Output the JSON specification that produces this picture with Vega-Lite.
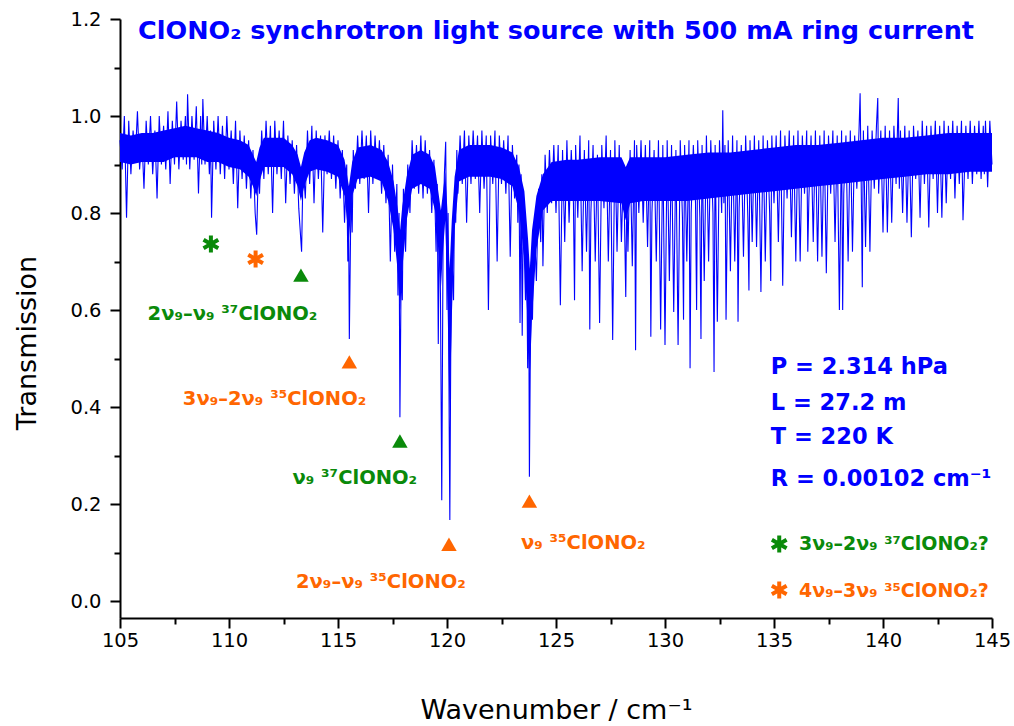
{
"$schema": "https://vega.github.io/schema/vega-lite/v6.json",
"width": 872, "height": 599,
"autosize": "none",
"padding": {"left": 120, "top": 19, "right": 22, "bottom": 108},
"config": {"view": {"stroke": null}, "font": "DejaVu Sans"},
"datasets": {
"band": [
{"wn":105.0,"lo":0.905,"hi":0.965},{"wn":105.5,"lo":0.90,"hi":0.96},{"wn":106.0,"lo":0.905,"hi":0.965},{"wn":106.5,"lo":0.905,"hi":0.965},{"wn":107.0,"lo":0.905,"hi":0.97},{"wn":107.5,"lo":0.915,"hi":0.975},{"wn":108.0,"lo":0.915,"hi":0.98},{"wn":108.5,"lo":0.915,"hi":0.975},{"wn":109.0,"lo":0.905,"hi":0.97},{"wn":109.5,"lo":0.905,"hi":0.965},
{"wn":110.0,"lo":0.895,"hi":0.955},{"wn":110.5,"lo":0.89,"hi":0.95},{"wn":110.9,"lo":0.875,"hi":0.94},{"wn":111.1,"lo":0.855,"hi":0.92},{"wn":111.25,"lo":0.835,"hi":0.905},{"wn":111.4,"lo":0.865,"hi":0.935},{"wn":111.6,"lo":0.895,"hi":0.955},{"wn":112.0,"lo":0.895,"hi":0.955},{"wn":112.5,"lo":0.895,"hi":0.955},{"wn":112.9,"lo":0.88,"hi":0.94},
{"wn":113.15,"lo":0.855,"hi":0.92},{"wn":113.3,"lo":0.825,"hi":0.895},{"wn":113.45,"lo":0.855,"hi":0.925},{"wn":113.7,"lo":0.885,"hi":0.95},{"wn":114.0,"lo":0.89,"hi":0.955},{"wn":114.5,"lo":0.885,"hi":0.95},{"wn":115.0,"lo":0.875,"hi":0.94},{"wn":115.3,"lo":0.835,"hi":0.91},{"wn":115.5,"lo":0.745,"hi":0.855},{"wn":115.65,"lo":0.835,"hi":0.905},
{"wn":115.9,"lo":0.87,"hi":0.935},{"wn":116.5,"lo":0.875,"hi":0.94},{"wn":117.0,"lo":0.865,"hi":0.93},{"wn":117.3,"lo":0.825,"hi":0.905},{"wn":117.55,"lo":0.765,"hi":0.865},{"wn":117.75,"lo":0.675,"hi":0.805},{"wn":117.85,"lo":0.60,"hi":0.765},{"wn":117.95,"lo":0.685,"hi":0.815},{"wn":118.15,"lo":0.785,"hi":0.875},{"wn":118.4,"lo":0.85,"hi":0.92},
{"wn":118.8,"lo":0.86,"hi":0.93},{"wn":119.2,"lo":0.85,"hi":0.92},{"wn":119.45,"lo":0.805,"hi":0.895},{"wn":119.6,"lo":0.725,"hi":0.845},{"wn":119.72,"lo":0.645,"hi":0.805},{"wn":119.82,"lo":0.725,"hi":0.845},{"wn":119.92,"lo":0.785,"hi":0.885},{"wn":120.02,"lo":0.625,"hi":0.805},{"wn":120.12,"lo":0.38,"hi":0.685},{"wn":120.22,"lo":0.585,"hi":0.785},
{"wn":120.35,"lo":0.765,"hi":0.875},{"wn":120.55,"lo":0.865,"hi":0.93},{"wn":121.0,"lo":0.875,"hi":0.94},{"wn":121.5,"lo":0.875,"hi":0.94},{"wn":122.0,"lo":0.875,"hi":0.94},{"wn":122.5,"lo":0.87,"hi":0.935},{"wn":123.0,"lo":0.855,"hi":0.925},{"wn":123.3,"lo":0.805,"hi":0.895},{"wn":123.55,"lo":0.705,"hi":0.845},{"wn":123.72,"lo":0.555,"hi":0.745},
{"wn":123.8,"lo":0.465,"hi":0.685},{"wn":123.9,"lo":0.585,"hi":0.765},{"wn":124.1,"lo":0.725,"hi":0.835},{"wn":124.4,"lo":0.805,"hi":0.88},{"wn":124.8,"lo":0.825,"hi":0.905},{"wn":125.5,"lo":0.825,"hi":0.91},{"wn":126.0,"lo":0.825,"hi":0.91},{"wn":127.0,"lo":0.825,"hi":0.915},{"wn":128.0,"lo":0.82,"hi":0.915},{"wn":128.2,"lo":0.785,"hi":0.895},
{"wn":128.4,"lo":0.82,"hi":0.915},{"wn":129.0,"lo":0.825,"hi":0.915},{"wn":130.0,"lo":0.825,"hi":0.915},{"wn":131.0,"lo":0.825,"hi":0.92},{"wn":132.0,"lo":0.83,"hi":0.925},{"wn":133.0,"lo":0.835,"hi":0.925},{"wn":134.0,"lo":0.84,"hi":0.93},{"wn":135.0,"lo":0.845,"hi":0.935},{"wn":136.0,"lo":0.85,"hi":0.94},{"wn":137.0,"lo":0.855,"hi":0.94},
{"wn":138.0,"lo":0.86,"hi":0.945},{"wn":139.0,"lo":0.865,"hi":0.95},{"wn":140.0,"lo":0.87,"hi":0.955},{"wn":141.0,"lo":0.875,"hi":0.955},{"wn":142.0,"lo":0.88,"hi":0.96},{"wn":143.0,"lo":0.88,"hi":0.965},{"wn":144.0,"lo":0.885,"hi":0.965},{"wn":145.0,"lo":0.885,"hi":0.965}
],
"spectrum": [
{"wn":105.0,"tr":0.95},{"wn":105.1,"tr":0.89},{"wn":105.2,"tr":1.00},{"wn":105.3,"tr":0.79},{"wn":105.4,"tr":0.99},{"wn":105.5,"tr":0.88},{"wn":105.6,"tr":0.97},{"wn":105.7,"tr":0.91},{"wn":105.8,"tr":1.01},{"wn":105.9,"tr":0.89},
{"wn":106.0,"tr":0.96},{"wn":106.1,"tr":0.85},{"wn":106.2,"tr":0.99},{"wn":106.3,"tr":0.90},{"wn":106.4,"tr":1.00},{"wn":106.5,"tr":0.88},{"wn":106.6,"tr":0.97},{"wn":106.7,"tr":0.83},{"wn":106.8,"tr":1.00},{"wn":106.9,"tr":0.90},
{"wn":107.0,"tr":0.98},{"wn":107.1,"tr":0.89},{"wn":107.2,"tr":1.01},{"wn":107.3,"tr":0.86},{"wn":107.4,"tr":0.99},{"wn":107.5,"tr":0.90},{"wn":107.6,"tr":1.03},{"wn":107.7,"tr":0.89},{"wn":107.8,"tr":0.99},{"wn":107.9,"tr":0.91},
{"wn":108.0,"tr":1.00},{"wn":108.05,"tr":0.90},{"wn":108.1,"tr":1.045},{"wn":108.2,"tr":0.89},{"wn":108.3,"tr":1.00},{"wn":108.4,"tr":0.91},{"wn":108.5,"tr":1.02},{"wn":108.6,"tr":0.84},{"wn":108.7,"tr":1.00},{"wn":108.75,"tr":0.90},{"wn":108.8,"tr":1.035},{"wn":108.9,"tr":0.90},
{"wn":109.0,"tr":1.00},{"wn":109.1,"tr":0.88},{"wn":109.15,"tr":0.97},{"wn":109.2,"tr":0.79},{"wn":109.3,"tr":0.99},{"wn":109.4,"tr":0.89},{"wn":109.5,"tr":1.00},{"wn":109.6,"tr":0.88},{"wn":109.7,"tr":0.98},{"wn":109.8,"tr":0.87},{"wn":109.9,"tr":1.00},
{"wn":110.0,"tr":0.89},{"wn":110.1,"tr":0.97},{"wn":110.2,"tr":0.86},{"wn":110.3,"tr":0.99},{"wn":110.4,"tr":0.81},{"wn":110.5,"tr":0.97},{"wn":110.6,"tr":0.87},{"wn":110.7,"tr":0.96},{"wn":110.8,"tr":0.85},{"wn":110.9,"tr":0.95},
{"wn":111.0,"tr":0.83},{"wn":111.1,"tr":0.93},{"wn":111.2,"tr":0.80},{"wn":111.27,"tr":0.755},{"wn":111.35,"tr":0.90},{"wn":111.4,"tr":0.84},{"wn":111.5,"tr":0.97},{"wn":111.6,"tr":0.87},{"wn":111.7,"tr":0.99},{"wn":111.8,"tr":0.88},{"wn":111.9,"tr":0.98},
{"wn":112.0,"tr":0.80},{"wn":112.1,"tr":0.99},{"wn":112.2,"tr":0.88},{"wn":112.3,"tr":0.97},{"wn":112.4,"tr":0.87},{"wn":112.5,"tr":0.99},{"wn":112.6,"tr":0.82},{"wn":112.7,"tr":0.96},{"wn":112.8,"tr":0.86},{"wn":112.9,"tr":0.95},
{"wn":113.0,"tr":0.84},{"wn":113.1,"tr":0.94},{"wn":113.2,"tr":0.81},{"wn":113.33,"tr":0.72},{"wn":113.4,"tr":0.90},{"wn":113.5,"tr":0.83},{"wn":113.6,"tr":0.97},{"wn":113.7,"tr":0.86},{"wn":113.8,"tr":0.98},{"wn":113.9,"tr":0.82},
{"wn":114.0,"tr":0.97},{"wn":114.1,"tr":0.87},{"wn":114.2,"tr":0.96},{"wn":114.3,"tr":0.76},{"wn":114.4,"tr":0.96},{"wn":114.5,"tr":0.88},{"wn":114.6,"tr":0.97},{"wn":114.7,"tr":0.87},{"wn":114.8,"tr":0.96},{"wn":114.9,"tr":0.85},
{"wn":115.0,"tr":0.95},{"wn":115.1,"tr":0.83},{"wn":115.2,"tr":0.93},{"wn":115.3,"tr":0.78},{"wn":115.4,"tr":0.90},{"wn":115.45,"tr":0.70},{"wn":115.48,"tr":0.84},{"wn":115.52,"tr":0.54},{"wn":115.6,"tr":0.85},{"wn":115.65,"tr":0.76},{"wn":115.7,"tr":0.93},{"wn":115.8,"tr":0.85},{"wn":115.9,"tr":0.96},
{"wn":116.0,"tr":0.86},{"wn":116.1,"tr":0.97},{"wn":116.2,"tr":0.87},{"wn":116.3,"tr":0.96},{"wn":116.4,"tr":0.80},{"wn":116.5,"tr":0.97},{"wn":116.6,"tr":0.86},{"wn":116.7,"tr":0.96},{"wn":116.8,"tr":0.87},{"wn":116.9,"tr":0.95},
{"wn":117.0,"tr":0.84},{"wn":117.1,"tr":0.94},{"wn":117.2,"tr":0.82},{"wn":117.3,"tr":0.92},{"wn":117.4,"tr":0.70},{"wn":117.5,"tr":0.90},{"wn":117.6,"tr":0.72},{"wn":117.7,"tr":0.86},{"wn":117.75,"tr":0.63},{"wn":117.8,"tr":0.80},{"wn":117.84,"tr":0.379},{"wn":117.9,"tr":0.70},{"wn":117.95,"tr":0.62},
{"wn":118.0,"tr":0.85},{"wn":118.1,"tr":0.72},{"wn":118.2,"tr":0.90},{"wn":118.3,"tr":0.80},{"wn":118.4,"tr":0.95},{"wn":118.5,"tr":0.85},{"wn":118.6,"tr":0.94},{"wn":118.7,"tr":0.84},{"wn":118.8,"tr":0.96},{"wn":118.9,"tr":0.83},
{"wn":119.0,"tr":0.95},{"wn":119.1,"tr":0.84},{"wn":119.2,"tr":0.93},{"wn":119.3,"tr":0.80},{"wn":119.4,"tr":0.91},{"wn":119.5,"tr":0.72},{"wn":119.55,"tr":0.86},{"wn":119.6,"tr":0.53},{"wn":119.65,"tr":0.80},{"wn":119.7,"tr":0.63},{"wn":119.76,"tr":0.208},{"wn":119.82,"tr":0.75},{"wn":119.88,"tr":0.88},{"wn":119.94,"tr":0.947},
{"wn":120.0,"tr":0.60},{"wn":120.05,"tr":0.80},{"wn":120.1,"tr":0.367},{"wn":120.13,"tr":0.167},{"wn":120.17,"tr":0.50},{"wn":120.22,"tr":0.72},{"wn":120.3,"tr":0.62},{"wn":120.35,"tr":0.85},{"wn":120.4,"tr":0.78},{"wn":120.45,"tr":0.93},{"wn":120.5,"tr":0.84},{"wn":120.6,"tr":0.96},{"wn":120.7,"tr":0.86},{"wn":120.8,"tr":0.97},{"wn":120.9,"tr":0.78},
{"wn":121.0,"tr":0.96},{"wn":121.1,"tr":0.86},{"wn":121.2,"tr":0.97},{"wn":121.3,"tr":0.87},{"wn":121.4,"tr":0.96},{"wn":121.5,"tr":0.80},{"wn":121.6,"tr":0.97},{"wn":121.7,"tr":0.85},{"wn":121.8,"tr":0.96},{"wn":121.9,"tr":0.60},
{"wn":122.0,"tr":0.96},{"wn":122.1,"tr":0.86},{"wn":122.2,"tr":0.97},{"wn":122.3,"tr":0.70},{"wn":122.4,"tr":0.96},{"wn":122.5,"tr":0.86},{"wn":122.6,"tr":0.95},{"wn":122.7,"tr":0.84},{"wn":122.8,"tr":0.96},{"wn":122.9,"tr":0.71},
{"wn":123.0,"tr":0.94},{"wn":123.1,"tr":0.83},{"wn":123.2,"tr":0.92},{"wn":123.25,"tr":0.78},{"wn":123.3,"tr":0.90},{"wn":123.35,"tr":0.573},{"wn":123.4,"tr":0.88},{"wn":123.45,"tr":0.547},{"wn":123.5,"tr":0.80},{"wn":123.6,"tr":0.62},{"wn":123.65,"tr":0.75},{"wn":123.7,"tr":0.48},{"wn":123.75,"tr":0.65},{"wn":123.78,"tr":0.256},{"wn":123.82,"tr":0.50},{"wn":123.87,"tr":0.70},{"wn":123.92,"tr":0.58},
{"wn":124.0,"tr":0.78},{"wn":124.1,"tr":0.66},{"wn":124.2,"tr":0.85},{"wn":124.3,"tr":0.74},{"wn":124.35,"tr":0.88},{"wn":124.4,"tr":0.69},{"wn":124.5,"tr":0.92},{"wn":124.6,"tr":0.80},{"wn":124.7,"tr":0.93},{"wn":124.8,"tr":0.82},{"wn":124.9,"tr":0.94},
{"wn":125.0,"tr":0.80},{"wn":125.1,"tr":0.94},{"wn":125.2,"tr":0.61},{"wn":125.3,"tr":0.93},{"wn":125.4,"tr":0.74},{"wn":125.5,"tr":0.95},{"wn":125.6,"tr":0.78},{"wn":125.7,"tr":0.93},{"wn":125.8,"tr":0.82},{"wn":125.85,"tr":0.62},{"wn":125.9,"tr":0.94},
{"wn":126.0,"tr":0.79},{"wn":126.1,"tr":0.96},{"wn":126.2,"tr":0.68},{"wn":126.3,"tr":0.93},{"wn":126.4,"tr":0.72},{"wn":126.5,"tr":0.95},{"wn":126.55,"tr":0.56},{"wn":126.6,"tr":0.80},{"wn":126.7,"tr":0.94},{"wn":126.8,"tr":0.70},{"wn":126.9,"tr":0.92},
{"wn":127.0,"tr":0.573},{"wn":127.1,"tr":0.94},{"wn":127.2,"tr":0.81},{"wn":127.3,"tr":0.96},{"wn":127.4,"tr":0.70},{"wn":127.5,"tr":0.93},{"wn":127.6,"tr":0.538},{"wn":127.7,"tr":0.95},{"wn":127.8,"tr":0.72},{"wn":127.9,"tr":0.94},
{"wn":128.0,"tr":0.74},{"wn":128.1,"tr":0.90},{"wn":128.2,"tr":0.627},{"wn":128.25,"tr":0.85},{"wn":128.3,"tr":0.72},{"wn":128.4,"tr":0.93},{"wn":128.5,"tr":0.69},{"wn":128.6,"tr":0.95},{"wn":128.65,"tr":0.517},{"wn":128.7,"tr":0.94},{"wn":128.8,"tr":0.80},{"wn":128.9,"tr":0.95},
{"wn":129.0,"tr":0.78},{"wn":129.1,"tr":0.94},{"wn":129.2,"tr":0.73},{"wn":129.3,"tr":0.95},{"wn":129.35,"tr":0.545},{"wn":129.4,"tr":0.80},{"wn":129.5,"tr":0.93},{"wn":129.6,"tr":0.70},{"wn":129.7,"tr":0.95},{"wn":129.8,"tr":0.56},{"wn":129.9,"tr":0.94},
{"wn":130.0,"tr":0.528},{"wn":130.1,"tr":0.95},{"wn":130.2,"tr":0.66},{"wn":130.3,"tr":0.94},{"wn":130.4,"tr":0.596},{"wn":130.5,"tr":0.93},{"wn":130.6,"tr":0.528},{"wn":130.7,"tr":0.95},{"wn":130.8,"tr":0.79},{"wn":130.85,"tr":0.58},{"wn":130.9,"tr":0.94},
{"wn":131.0,"tr":0.70},{"wn":131.1,"tr":0.95},{"wn":131.15,"tr":0.48},{"wn":131.2,"tr":0.80},{"wn":131.3,"tr":0.94},{"wn":131.4,"tr":0.82},{"wn":131.45,"tr":0.60},{"wn":131.5,"tr":0.95},{"wn":131.6,"tr":0.79},{"wn":131.65,"tr":0.54},{"wn":131.7,"tr":0.94},{"wn":131.8,"tr":0.66},{"wn":131.9,"tr":0.96},
{"wn":132.0,"tr":0.70},{"wn":132.1,"tr":0.95},{"wn":132.2,"tr":0.80},{"wn":132.25,"tr":0.472},{"wn":132.3,"tr":0.94},{"wn":132.4,"tr":0.576},{"wn":132.5,"tr":0.95},{"wn":132.6,"tr":0.80},{"wn":132.65,"tr":1.012},{"wn":132.7,"tr":0.82},{"wn":132.75,"tr":0.94},{"wn":132.8,"tr":0.58},{"wn":132.9,"tr":0.95},
{"wn":133.0,"tr":0.68},{"wn":133.1,"tr":0.96},{"wn":133.2,"tr":0.70},{"wn":133.3,"tr":0.95},{"wn":133.35,"tr":0.576},{"wn":133.4,"tr":0.81},{"wn":133.5,"tr":0.94},{"wn":133.6,"tr":0.71},{"wn":133.7,"tr":0.96},{"wn":133.8,"tr":0.79},{"wn":133.85,"tr":0.64},{"wn":133.9,"tr":0.95},
{"wn":134.0,"tr":0.74},{"wn":134.1,"tr":0.96},{"wn":134.2,"tr":0.73},{"wn":134.3,"tr":0.95},{"wn":134.4,"tr":0.637},{"wn":134.5,"tr":0.96},{"wn":134.6,"tr":0.70},{"wn":134.7,"tr":0.95},{"wn":134.8,"tr":0.80},{"wn":134.85,"tr":0.66},{"wn":134.9,"tr":0.96},
{"wn":135.0,"tr":0.82},{"wn":135.1,"tr":0.96},{"wn":135.2,"tr":0.74},{"wn":135.3,"tr":0.97},{"wn":135.4,"tr":0.65},{"wn":135.5,"tr":0.96},{"wn":135.6,"tr":0.83},{"wn":135.7,"tr":0.97},{"wn":135.8,"tr":0.75},{"wn":135.9,"tr":0.96},
{"wn":136.0,"tr":0.70},{"wn":136.1,"tr":0.97},{"wn":136.2,"tr":0.70},{"wn":136.3,"tr":0.96},{"wn":136.4,"tr":0.84},{"wn":136.5,"tr":0.97},{"wn":136.55,"tr":0.72},{"wn":136.6,"tr":0.83},{"wn":136.7,"tr":0.96},{"wn":136.8,"tr":0.74},{"wn":136.9,"tr":0.97},
{"wn":137.0,"tr":0.70},{"wn":137.1,"tr":0.96},{"wn":137.2,"tr":0.71},{"wn":137.3,"tr":0.97},{"wn":137.4,"tr":0.676},{"wn":137.5,"tr":0.96},{"wn":137.6,"tr":0.84},{"wn":137.7,"tr":0.97},{"wn":137.8,"tr":0.74},{"wn":137.9,"tr":0.96},
{"wn":138.0,"tr":0.60},{"wn":138.1,"tr":0.97},{"wn":138.15,"tr":0.60},{"wn":138.2,"tr":0.84},{"wn":138.3,"tr":0.96},{"wn":138.4,"tr":0.70},{"wn":138.5,"tr":0.97},{"wn":138.6,"tr":0.72},{"wn":138.7,"tr":0.96},{"wn":138.8,"tr":0.85},{"wn":138.9,"tr":0.97},{"wn":138.95,"tr":1.047},
{"wn":139.0,"tr":0.86},{"wn":139.05,"tr":0.647},{"wn":139.1,"tr":0.97},{"wn":139.2,"tr":0.73},{"wn":139.3,"tr":0.98},{"wn":139.4,"tr":0.72},{"wn":139.5,"tr":0.97},{"wn":139.6,"tr":0.85},{"wn":139.7,"tr":0.98},{"wn":139.76,"tr":1.037},{"wn":139.8,"tr":0.84},{"wn":139.9,"tr":0.97},
{"wn":140.0,"tr":0.76},{"wn":140.1,"tr":0.98},{"wn":140.2,"tr":0.76},{"wn":140.3,"tr":0.97},{"wn":140.4,"tr":0.78},{"wn":140.5,"tr":0.98},{"wn":140.6,"tr":0.86},{"wn":140.7,"tr":1.037},{"wn":140.75,"tr":0.85},{"wn":140.8,"tr":0.97},{"wn":140.9,"tr":0.80},
{"wn":141.0,"tr":0.98},{"wn":141.1,"tr":0.78},{"wn":141.2,"tr":0.97},{"wn":141.3,"tr":0.75},{"wn":141.4,"tr":0.98},{"wn":141.5,"tr":0.87},{"wn":141.6,"tr":0.97},{"wn":141.7,"tr":0.79},{"wn":141.8,"tr":0.99},{"wn":141.9,"tr":0.86},
{"wn":142.0,"tr":0.98},{"wn":142.1,"tr":0.77},{"wn":142.2,"tr":0.98},{"wn":142.3,"tr":0.87},{"wn":142.4,"tr":0.99},{"wn":142.5,"tr":0.80},{"wn":142.6,"tr":0.98},{"wn":142.7,"tr":0.79},{"wn":142.8,"tr":0.99},{"wn":142.9,"tr":0.82},
{"wn":143.0,"tr":0.98},{"wn":143.1,"tr":0.87},{"wn":143.2,"tr":0.99},{"wn":143.3,"tr":0.83},{"wn":143.4,"tr":0.98},{"wn":143.5,"tr":0.86},{"wn":143.6,"tr":0.99},{"wn":143.67,"tr":0.785},{"wn":143.8,"tr":0.98},{"wn":143.9,"tr":0.87},
{"wn":144.0,"tr":0.99},{"wn":144.1,"tr":0.86},{"wn":144.2,"tr":0.98},{"wn":144.3,"tr":0.88},{"wn":144.4,"tr":0.99},{"wn":144.5,"tr":0.87},{"wn":144.6,"tr":0.98},{"wn":144.65,"tr":0.88},{"wn":144.7,"tr":0.99},{"wn":144.8,"tr":0.853},{"wn":144.9,"tr":0.99},{"wn":145.0,"tr":0.90}
],
"triangles": [
{"wn":113.3,"tr":0.672,"iso":"37"},{"wn":115.52,"tr":0.493,"iso":"35"},{"wn":117.84,"tr":0.330,"iso":"37"},{"wn":120.09,"tr":0.117,"iso":"35"},{"wn":123.78,"tr":0.206,"iso":"35"}
],
"asterisks": [
{"wn":109.17,"tr":0.736,"iso":"37"},{"wn":111.22,"tr":0.705,"iso":"35"},{"wn":135.24,"tr":0.1175,"iso":"37"},{"wn":135.24,"tr":0.0227,"iso":"35"}
],
"bands": [
{"wn":110.16,"tr":0.579,"iso":"37","label":"2ν₉–ν₉ ³⁷ClONO₂"},
{"wn":112.09,"tr":0.404,"iso":"35","label":"3ν₉–2ν₉ ³⁵ClONO₂"},
{"wn":115.77,"tr":0.241,"iso":"37","label":"ν₉ ³⁷ClONO₂"},
{"wn":116.97,"tr":0.027,"iso":"35","label":"2ν₉–ν₉ ³⁵ClONO₂"},
{"wn":126.25,"tr":0.107,"iso":"35","label":"ν₉ ³⁵ClONO₂"}
],
"legend": [
{"wn":136.15,"tr":0.105,"iso":"37","label":"3ν₉–2ν₉ ³⁷ClONO₂?"},
{"wn":136.15,"tr":0.009,"iso":"35","label":"4ν₉–3ν₉ ³⁵ClONO₂?"}
],
"info": [
{"wn":134.85,"tr":0.4674,"iso":"info","label":"P = 2.314 hPa"},
{"wn":134.85,"tr":0.394,"iso":"info","label":"L = 27.2 m"},
{"wn":134.85,"tr":0.323,"iso":"info","label":"T = 220 K"},
{"wn":134.85,"tr":0.238,"iso":"info","label":"R = 0.00102 cm⁻¹"}
],
"heading": [
{"wn":125.0,"tr":1.158,"iso":"info","label":"ClONO₂ synchrotron light source with 500 mA ring current"}
]
},
"layer": [
{
"data": {"name": "band"},
"mark": {"type": "area", "color": "#0000FF", "opacity": 1},
"encoding": {
"x": {"field": "wn", "type": "quantitative", "scale": {"domain": [105, 145], "nice": false, "zero": false}, "axis": null},
"y": {"field": "lo", "type": "quantitative", "scale": {"domain": [-0.035, 1.2], "nice": false, "zero": false}, "axis": null},
"y2": {"field": "hi"}
}
},
{
"data": {"name": "spectrum"},
"mark": {"type": "line", "color": "#0000FF", "strokeWidth": 1.1},
"encoding": {
"x": {"field": "wn", "type": "quantitative", "scale": {"domain": [105, 145], "nice": false, "zero": false},
"axis": {"values": [105,110,115,120,125,130,135,140,145], "format": "d", "grid": false, "domainColor": "#000", "domainWidth": 2, "tickColor": "#000", "tickWidth": 2, "tickSize": 10, "labelFont": "DejaVu Sans", "labelFontSize": 19.5, "labelColor": "#000", "labelPadding": 3, "labelFlush": false, "labelOverlap": false, "labelBound": false,
"title": "Wavenumber / cm⁻¹", "titleFont": "DejaVu Sans", "titleFontSize": 27, "titleFontWeight": "normal", "titleColor": "#000", "titleY": 100, "titleBaseline": "alphabetic"}},
"y": {"field": "tr", "type": "quantitative", "scale": {"domain": [-0.035, 1.2], "nice": false, "zero": false},
"axis": {"values": [0,0.2,0.4,0.6,0.8,1.0,1.2], "format": ".1f", "grid": false, "domainColor": "#000", "domainWidth": 2, "tickColor": "#000", "tickWidth": 2, "tickSize": 10, "labelFont": "DejaVu Sans", "labelFontSize": 19.5, "labelColor": "#000", "labelPadding": 9, "labelFlush": false, "labelOverlap": false, "labelBound": false,
"title": "Transmission", "titleFont": "DejaVu Sans", "titleFontSize": 27, "titleFontWeight": "normal", "titleColor": "#000", "titleX": -85, "titleY": 323.5, "titleAngle": 270, "titleBaseline": "alphabetic", "titleAlign": "center"}}
}
},
{
"data": {"name": "triangles"},
"mark": {"type": "point", "shape": "triangle-up", "filled": true, "size": 240, "opacity": 1},
"encoding": {
"x": {"field": "wn", "type": "quantitative", "scale": {"domain": [105, 145], "nice": false, "zero": false},
"axis": {"orient": "bottom", "values": [107.5,112.5,117.5,122.5,127.5,132.5,137.5,142.5], "labels": false, "domain": false, "grid": false, "tickColor": "#000", "tickWidth": 2, "tickSize": 6, "title": null}},
"y": {"field": "tr", "type": "quantitative", "scale": {"domain": [-0.035, 1.2], "nice": false, "zero": false},
"axis": {"orient": "left", "values": [0.1,0.3,0.5,0.7,0.9,1.1], "labels": false, "domain": false, "grid": false, "tickColor": "#000", "tickWidth": 2, "tickSize": 6, "title": null}},
"color": {"field": "iso", "type": "nominal", "scale": {"domain": ["35","37","info"], "range": ["#FF6600","#0A8A0A","#0000FF"]}, "legend": null}
}
},
{
"data": {"name": "asterisks"},
"mark": {"type": "point", "shape": "M0,-1L0,1M-0.866,-0.5L0.866,0.5M-0.866,0.5L0.866,-0.5", "filled": false, "size": 289, "strokeWidth": 4, "strokeCap": "butt", "opacity": 1},
"encoding": {
"x": {"field": "wn", "type": "quantitative", "scale": {"domain": [105, 145], "nice": false, "zero": false}, "axis": null},
"y": {"field": "tr", "type": "quantitative", "scale": {"domain": [-0.035, 1.2], "nice": false, "zero": false}, "axis": null},
"color": {"field": "iso", "type": "nominal", "scale": {"domain": ["35","37","info"], "range": ["#FF6600","#0A8A0A","#0000FF"]}, "legend": null}
}
},
{
"data": {"name": "bands"},
"mark": {"type": "text", "font": "DejaVu Sans", "fontSize": 19.5, "fontWeight": "bold", "align": "center", "baseline": "alphabetic"},
"encoding": {
"x": {"field": "wn", "type": "quantitative", "scale": {"domain": [105, 145], "nice": false, "zero": false}, "axis": null},
"y": {"field": "tr", "type": "quantitative", "scale": {"domain": [-0.035, 1.2], "nice": false, "zero": false}, "axis": null},
"text": {"field": "label"},
"color": {"field": "iso", "type": "nominal", "scale": {"domain": ["35","37","info"], "range": ["#FF6600","#0A8A0A","#0000FF"]}, "legend": null}
}
},
{
"data": {"name": "legend"},
"mark": {"type": "text", "font": "DejaVu Sans", "fontSize": 19, "fontWeight": "bold", "align": "left", "baseline": "alphabetic"},
"encoding": {
"x": {"field": "wn", "type": "quantitative", "scale": {"domain": [105, 145], "nice": false, "zero": false}, "axis": null},
"y": {"field": "tr", "type": "quantitative", "scale": {"domain": [-0.035, 1.2], "nice": false, "zero": false}, "axis": null},
"text": {"field": "label"},
"color": {"field": "iso", "type": "nominal", "scale": {"domain": ["35","37","info"], "range": ["#FF6600","#0A8A0A","#0000FF"]}, "legend": null}
}
},
{
"data": {"name": "info"},
"mark": {"type": "text", "font": "DejaVu Sans", "fontSize": 22.5, "fontWeight": "bold", "align": "left", "baseline": "alphabetic"},
"encoding": {
"x": {"field": "wn", "type": "quantitative", "scale": {"domain": [105, 145], "nice": false, "zero": false}, "axis": null},
"y": {"field": "tr", "type": "quantitative", "scale": {"domain": [-0.035, 1.2], "nice": false, "zero": false}, "axis": null},
"text": {"field": "label"},
"color": {"field": "iso", "type": "nominal", "scale": {"domain": ["35","37","info"], "range": ["#FF6600","#0A8A0A","#0000FF"]}, "legend": null}
}
},
{
"data": {"name": "heading"},
"mark": {"type": "text", "font": "DejaVu Sans", "fontSize": 25.5, "fontWeight": "bold", "align": "center", "baseline": "alphabetic"},
"encoding": {
"x": {"field": "wn", "type": "quantitative", "scale": {"domain": [105, 145], "nice": false, "zero": false}, "axis": null},
"y": {"field": "tr", "type": "quantitative", "scale": {"domain": [-0.035, 1.2], "nice": false, "zero": false}, "axis": null},
"text": {"field": "label"},
"color": {"field": "iso", "type": "nominal", "scale": {"domain": ["35","37","info"], "range": ["#FF6600","#0A8A0A","#0000FF"]}, "legend": null}
}
}
],
"resolve": {"axis": {"x": "independent", "y": "independent"}}
}
